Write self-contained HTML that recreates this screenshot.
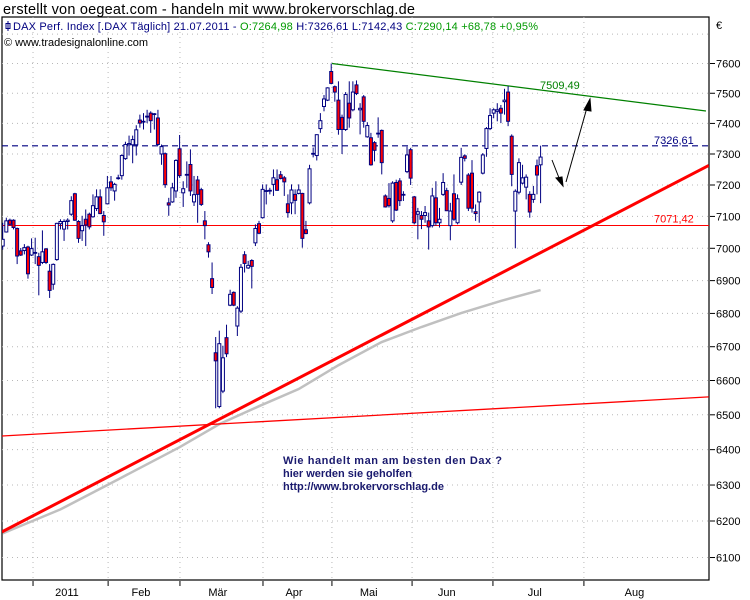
<!DOCTYPE html>
<html><head><meta charset="utf-8"><style>
html,body{margin:0;padding:0;background:#fff;}
svg{display:block;font-family:"Liberation Sans",sans-serif;}
</style></head><body>
<svg id="chart" width="750" height="600" viewBox="0 0 750 600">
<text x="3" y="14" font-size="14.5" fill="#000" textLength="412">erstellt von oegeat.com - handeln mit www.brokervorschlag.de</text>
<rect x="2" y="17" width="707" height="563" fill="#fff" stroke="#000" stroke-width="1.2"/>
<g id="grid"></g>
<g id="overlays"></g>
<g id="candles"></g>
<g id="yaxis"></g>
<g id="xaxis"></g>
<g>
<line x1="8" y1="21" x2="8" y2="31" stroke="#000080"/><rect x="6" y="23.5" width="4" height="5" fill="none" stroke="#000080"/>
<text x="13" y="30" font-size="11" fill="#000080" textLength="525"><tspan>DAX Perf. Index [.DAX  Täglich] 21.07.2011 - </tspan><tspan fill="#009900">O:7264,98</tspan><tspan> H:7326,61 L:7142,43 </tspan><tspan fill="#009900">C:7290,14 +68,78 +0,95%</tspan></text>
<text x="4" y="46" font-size="11" fill="#000" textLength="144">© www.tradesignalonline.com</text>
</g>
<text x="716" y="29" font-size="11" fill="#000">€</text>
<g font-size="11" font-weight="bold" fill="#1a1a6e">
<text x="283" y="464" textLength="219">Wie handelt man am besten  den Dax ?</text>
<text x="283" y="477">hier werden sie geholfen</text>
<text x="283" y="490">http://www.brokervorschlag.de</text>
</g>
</svg>
<script>
const opens=[7007,7051,7088,7088,7062,6992,6993,7004,6979,6986,6974,6956,6998,6929,6889,6965,7077,7060,7084,7107,7172,7084,7055,7091,7107,7099,7125,7162,7103,7140,7210,7181,7222,7230,7285,7330,7330,7330,7411,7405,7421,7434,7430,7418,7300,7301,7143,7146,7181,7317,7175,7233,7266,7146,7216,7185,7086,7011,6906,6682,6524,6569,6727,6825,6864,6762,6807,6980,6939,6962,7017,7077,7096,7180,7181,7202,7217,7233,7223,7140,7143,7170,7173,7173,7058,7143,7300,7295,7383,7456,7477,7573,7522,7477,7420,7380,7467,7445,7528,7445,7488,7356,7353,7337,7366,7377,7165,7157,7086,7208,7213,7168,7243,7314,7162,7107,7103,7103,7086,7071,7159,7080,7170,7182,7071,7172,7080,7209,7294,7232,7238,7115,7146,7238,7318,7383,7434,7440,7450,7472,7504,7358,7117,7177,7206,7193,7170,7154,7262,7265];
const highs=[7080,7096,7093,7091,7065,7001,7013,7008,7031,7033,6986,7056,7001,6951,6953,7080,7091,7091,7094,7164,7175,7088,7102,7122,7112,7170,7186,7186,7117,7229,7229,7207,7233,7299,7340,7360,7360,7394,7429,7434,7445,7440,7434,7445,7331,7305,7159,7207,7283,7362,7212,7276,7315,7229,7229,7191,7117,7019,6956,6729,6748,6703,6766,6872,6867,6822,6951,6991,6961,6966,7075,7086,7202,7202,7191,7250,7250,7245,7229,7170,7202,7186,7202,7175,7086,7265,7321,7364,7434,7494,7520,7600,7526,7540,7429,7504,7540,7540,7543,7467,7494,7404,7369,7342,7420,7380,7170,7206,7212,7217,7222,7180,7324,7320,7165,7127,7117,7133,7112,7191,7212,7127,7238,7191,7143,7234,7170,7320,7299,7238,7280,7138,7180,7303,7388,7450,7450,7467,7461,7515,7524,7364,7186,7286,7265,7234,7180,7197,7282,7327];
const lows=[6996,7049,7071,7059,6951,6976,6981,6906,6976,6951,6855,6951,6951,6847,6872,6961,7059,7023,7059,7102,7086,7017,7023,7007,7059,7096,7117,7107,7039,7138,7181,7150,7217,7217,7281,7295,7270,7295,7386,7380,7401,7369,7380,7327,7265,7191,7102,7143,7159,7223,7130,7191,7165,7133,7080,7133,7028,6971,6859,6519,6519,6563,6669,6822,6822,6732,6801,6925,6936,6876,7007,7044,7093,7138,7170,7165,7181,7218,7165,7096,7107,7107,7170,7002,7044,7138,7289,7279,7369,7440,7474,7530,7472,7363,7300,7375,7386,7440,7494,7364,7386,7353,7262,7276,7353,7234,7128,7128,7080,7117,7133,7149,7238,7200,7075,7028,7060,7080,6996,7065,7071,7065,7165,7117,7025,7086,7075,7200,7276,7117,7112,7086,7080,7234,7291,7378,7417,7407,7401,7429,7391,7196,7000,7170,7202,7154,7096,7143,7170,7142];
const closes=[7028,7086,7075,7065,6976,6979,7002,6921,6999,6987,6947,6989,6956,6870,6950,7078,7084,7084,7088,7150,7088,7031,7071,7073,7067,7134,7162,7109,7083,7191,7191,7202,7223,7295,7331,7334,7347,7379,7401,7407,7424,7409,7432,7331,7324,7201,7136,7191,7279,7230,7188,7234,7181,7169,7170,7138,7071,6989,6879,6658,6709,6667,6679,6858,6825,6816,6941,6953,6947,6944,7062,7047,7186,7182,7183,7223,7183,7221,7210,7112,7184,7151,7184,7031,7046,7252,7302,7363,7409,7481,7518,7533,7504,7380,7380,7496,7418,7504,7499,7450,7407,7393,7265,7312,7368,7272,7130,7134,7206,7120,7150,7170,7297,7222,7080,7115,7091,7112,7067,7165,7080,7091,7208,7118,7117,7091,7156,7289,7286,7126,7126,7109,7177,7297,7383,7426,7445,7445,7434,7477,7407,7234,7180,7272,7223,7225,7114,7170,7232,7290];
const maIdx=[0,16,32,49,60,71,82,93,105,116,127,138,149];
const maVals=[6166,6232,6316,6407,6473,6525,6575,6645,6714,6759,6801,6838,6871];
const yTicks=[6100,6200,6300,6400,6500,6600,6700,6800,6900,7000,7100,7200,7300,7400,7500,7600];
const gridLevels=[6100,6200,6300,6400,6500,6600,6700,6800,6900,7000,7100,7200,7300,7400,7500,7600,7700];
const monthTickIdx=[8.4,29.2,49.1,72.1,91.2,113.4,135.8,161];
const monthLabelIdx=[17.8,38.3,59.6,80.7,101.4,123,147.4,175];
const monthLabels=["2011","Feb","Mär","Apr","Mai","Jun","Jul","Aug"];
const resistance=7326.61, support=7071.42;
const greenLine=[[91.2,7600],[194.8,7441]];
const redThick=[[-0.2,6170],[195.6,7263]];
const redThin=[[-0.2,6439],[195.6,6552]];

const NS="http://www.w3.org/2000/svg";
const X0=2,X1=709,Y0=17,Y1=580;
function xOf(i){return 2.7+i*3.61;}
function yOf(p){return 63.5+2247*Math.log(7600/p);}
function mk(tag,attrs,parent){const e=document.createElementNS(NS,tag);for(const k in attrs)e.setAttribute(k,attrs[k]);parent.appendChild(e);return e;}
const svg=document.getElementById('chart');
const defs=mk('defs',{},svg);
const cp=mk('clipPath',{id:'clip'},defs);
mk('rect',{x:X0,y:Y0,width:X1-X0,height:Y1-Y0},cp);

const grid=document.getElementById('grid');
gridLevels.forEach(v=>{const l=mk('line',{x1:X0,x2:X1,y1:yOf(v),y2:yOf(v),stroke:'#b8b8b8','stroke-dasharray':'1,4'},grid);

});
monthTickIdx.forEach(i=>{const l=mk('line',{x1:xOf(i),x2:xOf(i),y1:Y0,y2:Y1,stroke:'#b8b8b8','stroke-dasharray':'1,4'},grid);

});

const ov=document.getElementById('overlays');
ov.setAttribute('clip-path','url(#clip)');
// moving average
let d='';maIdx.forEach((i,k)=>{d+=(k?'L':'M')+xOf(i)+','+yOf(maVals[k]);});
const ma=mk('path',{d:d,fill:'none',stroke:'#c0c0c0','stroke-width':2.5},ov);


function seg(pts,attrs,name){const l=mk('line',Object.assign({x1:xOf(pts[0][0]),y1:yOf(pts[0][1]),x2:xOf(pts[1][0]),y2:yOf(pts[1][1])},attrs),ov);

}
seg(redThick,{stroke:'#ff0000','stroke-width':3},'rising-trendline');
seg(redThin,{stroke:'#ff0000','stroke-width':1.3},'long-trendline');
seg(greenLine,{stroke:'#008000','stroke-width':1.3},'resistance-trendline');
const sl=mk('line',{x1:X0,x2:X1,y1:yOf(support),y2:yOf(support),stroke:'#ff0000','stroke-width':1},ov);


const rl=mk('line',{x1:X0,x2:X1,y1:yOf(resistance),y2:yOf(resistance),stroke:'#000080','stroke-width':1.2,'stroke-dasharray':'6,4'},ov);


function lbl(x,y,t,c,name){const e=mk('text',{x:x,y:y,'font-size':11,fill:c},svg);e.textContent=t;

}
lbl(654,yOf(resistance)-2,'7326,61','#000080','resistance-label');
lbl(654,yOf(support)-3,'7071,42','#ff0000','support-label');
lbl(540,89,'7509,49','#008000','trendline-label');

// arrows
const ar=mk('g',{stroke:'#000','stroke-width':1,fill:'#000'},svg);


mk('line',{x1:552,y1:160,x2:561,y2:183},ar);
mk('polygon',{points:'563,186 556,178 562,177'},ar);
mk('line',{x1:566,y1:182,x2:588,y2:104},ar);
mk('polygon',{points:'590,99 584,110 591,111'},ar);

// candles
const cg=document.getElementById('candles');
cg.setAttribute('clip-path','url(#clip)');
opens.forEach((o,i)=>{const x=xOf(i),c=closes[i];
const g=mk('g',{},cg);


mk('line',{x1:x,x2:x,y1:yOf(highs[i]),y2:yOf(lows[i]),stroke:'#000080','stroke-width':1},g);
const top=yOf(Math.max(o,c)),bot=yOf(Math.min(o,c));
mk('rect',{x:x-1.5,y:top,width:3,height:Math.max(bot-top,0.8),fill:c>=o?'#ffffff':'#ff0000',stroke:'#000080','stroke-width':1},g);});

// y axis
const ya=document.getElementById('yaxis');
yTicks.forEach(v=>{const y=yOf(v);
mk('line',{x1:710,x2:715,y1:y,y2:y,stroke:'#000'},ya);
const t=mk('text',{x:716,y:y+4,'font-size':11,fill:'#000'},ya);t.textContent=v;

});
// x axis
const xa=document.getElementById('xaxis');
monthTickIdx.forEach(i=>{mk('line',{x1:xOf(i),x2:xOf(i),y1:581,y2:586,stroke:'#000'},xa);});
monthLabels.forEach((m,k)=>{const t=mk('text',{x:xOf(monthLabelIdx[k]),y:596,'font-size':11,fill:'#000','text-anchor':'middle'},xa);t.textContent=m;

});
</script>
</body></html>
